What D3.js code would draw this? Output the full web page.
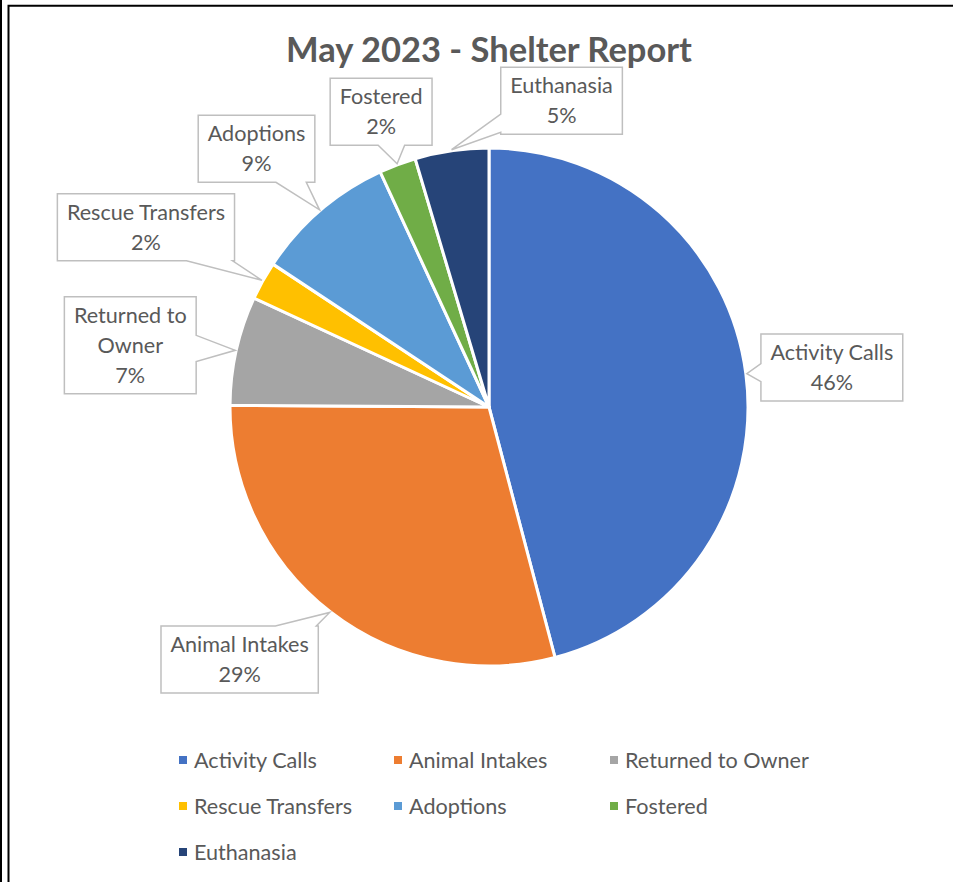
<!DOCTYPE html>
<html>
<head>
<meta charset="utf-8">
<script src="https://cdn.jsdelivr.net/npm/d3@7"></script>
<style>
  body { margin: 0; background: #fff; }
  svg { display: block; font-family: Lato, "Open Sans", sans-serif; }
</style>
</head>
<body>
<svg id="chart" width="963" height="882"></svg>
<script>
var categories = ["Activity Calls", "Animal Intakes", "Returned to Owner", "Rescue Transfers", "Adoptions", "Fostered", "Euthanasia"];
var values = [45.9, 29.2, 6.8, 2.4, 8.8, 2.3, 4.6];
var colors = ["#4472C4", "#ED7D31", "#A5A5A5", "#FFC000", "#5B9BD5", "#70AD47", "#264478"];
// callout box offset from the pointer tip, and forced line breaks
var calloutOffset = [[85, -6], [-90, 47], [-105, -5], [-116, -53], [-63, -61], [-16, -52], [110, -49]];
var labelLines = [null, null, ["Returned to", "Owner"], null, null, null, null];

var W = 963, H = 882;
var cx = 489, cy = 407, R = 259;
var textColor = "#595959";
var fontSize = 21.6, lineH = 30;

var svg = d3.select("#chart");

svg.append("rect").attr("width", W).attr("height", H).attr("fill", "#fff");
// frame
svg.append("rect").attr("x", 0).attr("y", 0).attr("width", 2).attr("height", H).attr("fill", "#000");
svg.append("path").attr("d", "M8.5," + H + "V5.7H953").attr("fill", "none").attr("stroke", "#000").attr("stroke-width", 2);

svg.append("text")
	.attr("x", cx).attr("y", 62)
	.attr("text-anchor", "middle")
	.attr("font-size", 34.5).attr("font-weight", "bold")
	.attr("fill", textColor)
	.text("May 2023 - Shelter Report");

var total = d3.sum(values);
var pct = d3.format(".0%");
var data = categories.map(function (c, i) {
	return { name: c, value: values[i], color: colors[i], i: i };
});

var pie = d3.pie().sort(null).value(function (d) { return d.value; });
var arc = d3.arc().innerRadius(0).outerRadius(R);
var arcs = pie(data);

var g = svg.append("g").attr("transform", "translate(" + cx + "," + cy + ")");
g.selectAll("path.slice").data(arcs).enter().append("path")
	.attr("class", "slice")
	.attr("d", arc)
	.attr("fill", function (d) { return d.data.color; })
	.attr("stroke", "#fff")
	.attr("stroke-width", 3)
	.attr("stroke-linejoin", "round");

// callouts
arcs.forEach(function (a, i) {
	var mid = (a.startAngle + a.endAngle) / 2;
	var tx = Math.sin(mid) * (R + 1), ty = -Math.cos(mid) * (R + 1);
	var off = calloutOffset[i];
	var bx = tx + off[0], by = ty + off[1];
	var lines = (labelLines[i] || [a.data.name]).concat([pct(a.data.value / total)]);

	var lg = g.append("g");
	var path = lg.append("path");
	var texts = lg.selectAll("text").data(lines).enter().append("text")
		.attr("x", bx)
		.attr("y", function (d, k) { return by + (k - (lines.length - 1) / 2) * lineH; })
		.attr("dy", "0.35em")
		.attr("text-anchor", "middle")
		.attr("font-size", fontSize)
		.attr("fill", textColor)
		.text(function (d) { return d; });
	var tw = 0;
	texts.each(function () { tw = Math.max(tw, this.getComputedTextLength()); });
	var bw = tw + 19, bh = lines.length * lineH + 7;
	var x0 = bx - bw / 2, x1 = bx + bw / 2, y0 = by - bh / 2, y1 = by + bh / 2;

	// find which edge the line center->tip leaves through
	var dx = tx - bx, dy = ty - by;
	var tX = dx !== 0 ? (bw / 2) / Math.abs(dx) : Infinity;
	var tY = dy !== 0 ? (bh / 2) / Math.abs(dy) : Infinity;
	var d;
	if (tX < tY) {
		// left or right edge
		var ey = by + dy * tX, wlen = bh * 0.27;
		var s = Math.max(y0 + 2, Math.min(y1 - 2 - wlen, ey - wlen / 2));
		if (dx < 0) {
			d = "M" + x0 + "," + y0 + "H" + x1 + "V" + y1 + "H" + x0 + "V" + (s + wlen) + "L" + tx + "," + ty + "L" + x0 + "," + s + "Z";
		} else {
			d = "M" + x0 + "," + y0 + "H" + x1 + "V" + s + "L" + tx + "," + ty + "L" + x1 + "," + (s + wlen) + "V" + y1 + "H" + x0 + "Z";
		}
	} else {
		var ex = bx + dx * tY, wl = bw * 0.26;
		var sx = Math.max(x0 + 2, Math.min(x1 - 2 - wl, ex - wl / 2));
		if (dy > 0) {
			d = "M" + x0 + "," + y0 + "H" + x1 + "V" + y1 + "H" + (sx + wl) + "L" + tx + "," + ty + "L" + sx + "," + y1 + "H" + x0 + "Z";
		} else {
			d = "M" + x0 + "," + y0 + "H" + sx + "L" + tx + "," + ty + "L" + (sx + wl) + "," + y0 + "H" + x1 + "V" + y1 + "H" + x0 + "Z";
		}
	}
	path.attr("d", d)
		.attr("fill", "#fff")
		.attr("stroke", "#BFBFBF")
		.attr("stroke-width", 1.5)
		.attr("stroke-linejoin", "miter");
});

// legend
var legCols = [183, 398, 614], legRows = [760, 806, 852];
var leg = svg.append("g").selectAll("g").data(data).enter().append("g")
	.attr("transform", function (d, i) {
		return "translate(" + legCols[i % 3] + "," + legRows[Math.floor(i / 3)] + ")";
	});
leg.append("rect")
	.attr("x", -4).attr("y", -4).attr("width", 8).attr("height", 8)
	.attr("fill", function (d) { return d.color; });
leg.append("text")
	.attr("x", 11).attr("dy", "0.35em")
	.attr("font-size", fontSize)
	.attr("fill", textColor)
	.text(function (d) { return d.name; });
</script>
</body>
</html>
